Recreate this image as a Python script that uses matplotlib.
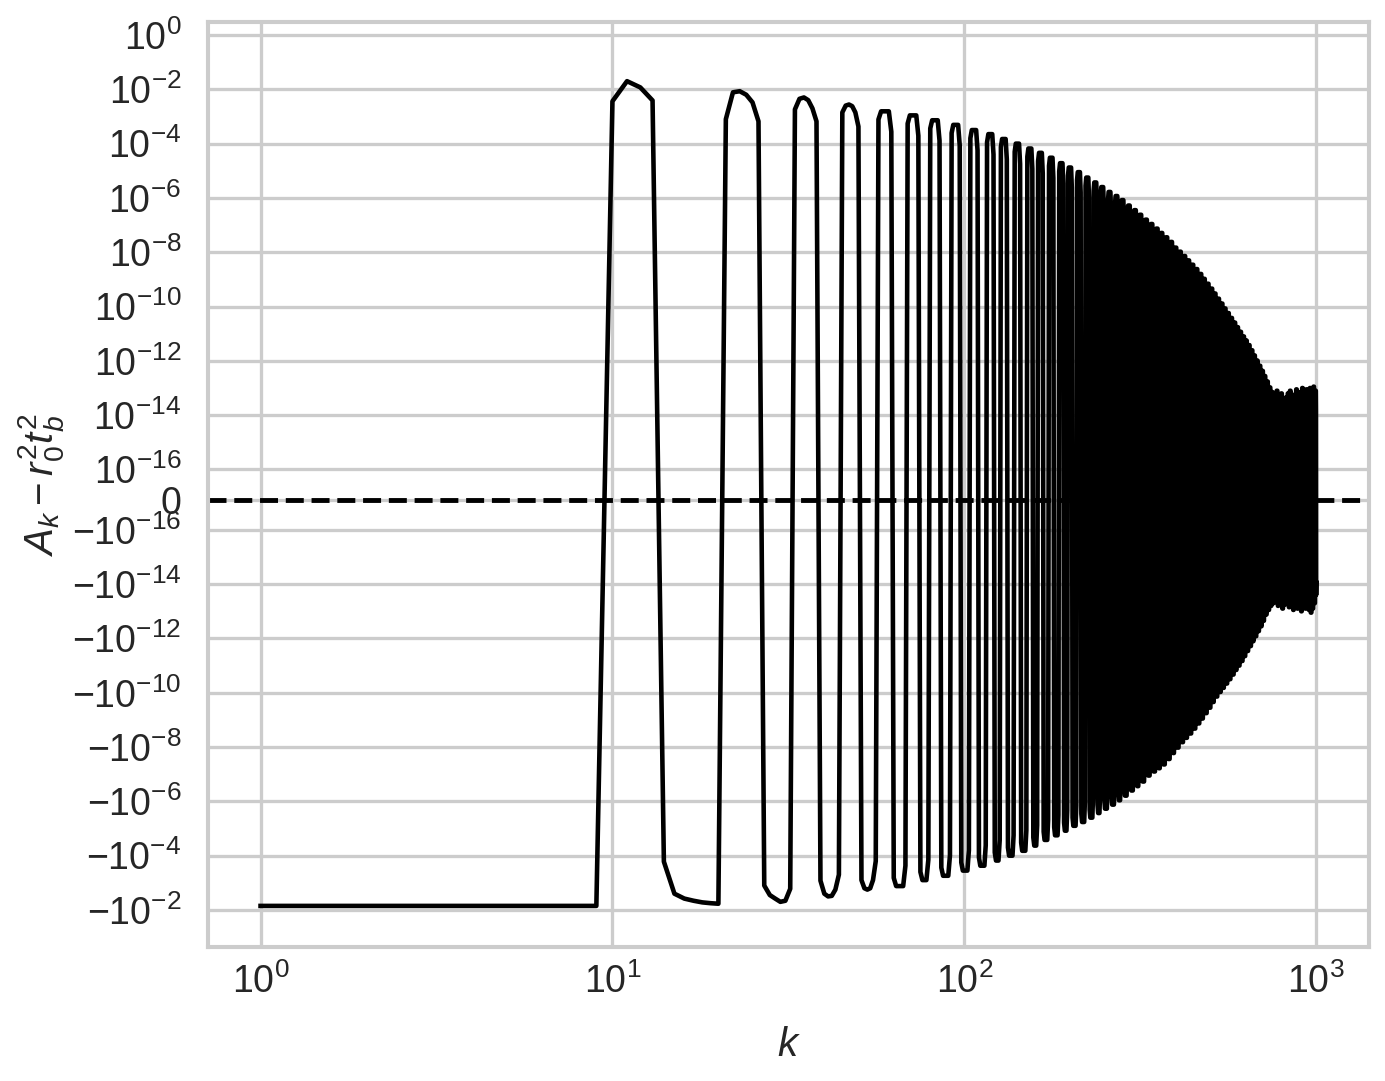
import numpy as np
import matplotlib.pyplot as plt

plt.rcParams['font.family'] = ['Liberation Sans', 'DejaVu Sans']
plt.rcParams['mathtext.fontset'] = 'custom'
plt.rcParams['mathtext.rm'] = 'Liberation Sans'
plt.rcParams['mathtext.it'] = 'Liberation Sans:italic'
plt.rcParams['mathtext.bf'] = 'Liberation Sans:bold'

# k = 1 .. 56, read point by point: sign and log10|A_k - r0^2 tb^2|
head_sign = [-1, -1, -1, -1, -1, -1, -1, -1, -1,
             1, 1, 1, 1,
             -1, -1, -1, -1, -1, -1, -1,
             1, 1, 1, 1, 1, 1,
             -1, -1, -1, -1, -1, -1,
             1, 1, 1, 1, 1, 1,
             -1, -1, -1, -1, -1, -1,
             1, 1, 1, 1, 1, 1,
             -1, -1, -1, -1, -1, -1]
head_exp = [-2.15, -2.15, -2.15, -2.15, -2.15, -2.15, -2.15, -2.15, -2.15,
            -2.44, -1.70, -1.93, -2.41,
            -3.78, -2.60, -2.42, -2.34, -2.28, -2.25, -2.23,
            -3.10, -2.11, -2.07, -2.20, -2.48, -3.18,
            -2.90, -2.55, -2.42, -2.30, -2.34, -2.78,
            -2.74, -2.35, -2.30, -2.40, -2.70, -3.18,
            -3.08, -2.60, -2.50, -2.52, -2.75, -3.30,
            -2.85, -2.60, -2.56, -2.62, -2.85, -3.37,
            -3.10, -2.80, -2.75, -2.80, -3.10, -3.80]

# from k = 57 on: where each positive / negative lobe starts and its peak (log10)
pos_start = [57, 69, 80, 92, 104, 116, 127, 139, 151, 162, 174, 186, 197, 209, 221,
             233, 244, 256, 268, 279, 291, 303, 314, 326, 338, 350, 361, 373, 385,
             396, 408, 420, 431, 443, 455, 467, 478, 490, 502, 513, 525, 537, 548,
             560, 572, 584, 595, 607, 619, 630, 642, 654, 665, 677, 689, 701, 712,
             724, 736, 747, 759, 771, 782, 794, 806, 818, 829, 841, 853, 864, 876,
             888, 899, 911, 923, 935, 946, 958, 970, 981, 993]
neg_start = [63, 75, 86, 98, 110, 122, 133, 145, 157, 168, 180, 192, 203, 215, 227,
             239, 250, 262, 274, 285, 297, 309, 320, 332, 344, 356, 367, 379, 391,
             402, 414, 426, 437, 449, 461, 473, 484, 496, 508, 519, 531, 543, 554,
             566, 578, 590, 601, 613, 625, 636, 648, 660, 671, 683, 695, 707, 718,
             730, 742, 753, 765, 777, 788, 800, 812, 824, 835, 847, 859, 870, 882,
             894, 905, 917, 929, 941, 952, 964, 976, 987, 999]
pos_exp = [-2.81, -2.96, -3.14, -3.31, -3.50, -3.65, -3.83, -4.00, -4.18, -4.34,
           -4.52, -4.72, -4.88, -5.05, -5.25, -5.43, -5.60, -5.78, -5.93, -6.08,
           -6.28, -6.45, -6.62, -6.80, -6.96, -7.13, -7.29, -7.45, -7.62, -7.83,
           -7.98, -8.14, -8.30, -8.46, -8.62, -8.80, -8.98, -9.16, -9.34, -9.52,
           -9.71, -9.89, -10.07, -10.24, -10.42, -10.59, -10.76, -10.93, -11.10, -11.25,
           -11.42, -11.61, -11.80, -11.99, -12.18, -12.37, -12.56, -12.76, -12.98,
           -13.15, -13.30, -13.10, -13.40, -13.20, -13.45, -13.35, -13.20, -13.10, -13.30,
           -13.25, -13.05, -13.20, -13.15, -13.00, -13.10, -13.05, -13.20, -13.00, -13.10,
           -12.95, -13.10]
neg_exp = [-2.88, -3.10, -3.26, -3.45, -3.63, -3.82, -4.00, -4.18, -4.37, -4.58,
           -4.75, -4.92, -5.10, -5.24, -5.40, -5.57, -5.73, -5.88, -6.04, -6.21,
           -6.40, -6.56, -6.73, -6.95, -7.10, -7.22, -7.36, -7.56, -7.78, -7.98,
           -8.18, -8.34, -8.50, -8.68, -8.87, -9.05, -9.25, -9.45, -9.66, -9.86,
           -10.03, -10.18, -10.34, -10.50, -10.67, -10.84, -11.00, -11.17, -11.35, -11.54,
           -11.72, -11.90, -12.08, -12.27, -12.45, -12.65, -12.88, -13.05, -13.20,
           -13.30, -13.40, -13.20, -13.35, -13.10, -13.25, -13.30, -13.15, -13.20, -13.05,
           -13.25, -13.10, -13.20, -13.00, -13.15, -13.10, -13.25, -13.05, -12.95, -13.10,
           -13.30, -13.30]
edge_drop = (0.3, 0.75)  # first / last point of a lobe sits below the lobe peak
k_max = 1000

# build the series
vals = list(np.array(head_sign) * 10.0 ** np.array(head_exp))
lobes = sorted([(s, 1, e) for s, e in zip(pos_start, pos_exp)] +
               [(s, -1, e) for s, e in zip(neg_start, neg_exp)])
stops = [s for s, _, _ in lobes[1:]] + [k_max + 1]
for (s, sg, e), stop in zip(lobes, stops):
    n = stop - s
    for j in range(n):
        ee = e
        if j == 0:
            ee -= edge_drop[0]
        elif j == n - 1:
            ee -= edge_drop[1]
        vals.append(sg * 10.0 ** ee)
k = np.arange(1, len(vals) + 1)

# draw figure
fig = plt.figure(figsize=(13.85, 10.81), dpi=100)
ax = fig.add_axes([0.150, 0.124, 0.8385, 0.8556])

ax.plot(k, vals, color='black', lw=3.3)
ax.axhline(0, color='black', ls='--', lw=3.5)

ax.set_xscale('log')
ax.set_yscale('symlog', linthresh=1e-16)

pos_ticks = [10.0 ** -p for p in range(0, 17, 2)]
ax.set_yticks(pos_ticks + [0] + [-t for t in pos_ticks[1:]])
ax.set_xticks([1, 10, 100, 1000])
ax.minorticks_off()
ax.set_ylim(-0.23, 3.0)

ax.set_axisbelow(True)
ax.grid(True, color='#cccccc', lw=2.36)
for sp in ax.spines.values():
    sp.set_color('#cccccc')
    sp.set_linewidth(2.95)
ax.tick_params(length=0, labelsize=27, colors='#262626')
ax.tick_params(axis='y', pad=19)
ax.tick_params(axis='x', pad=12)

ax.set_xlabel('$k$', fontsize=29, color='#262626', labelpad=18)
ax.set_ylabel(r'$A_k - r_0^2 t_b^2$', fontsize=29, color='#262626', labelpad=4)

plt.savefig('out.png', dpi=100)
